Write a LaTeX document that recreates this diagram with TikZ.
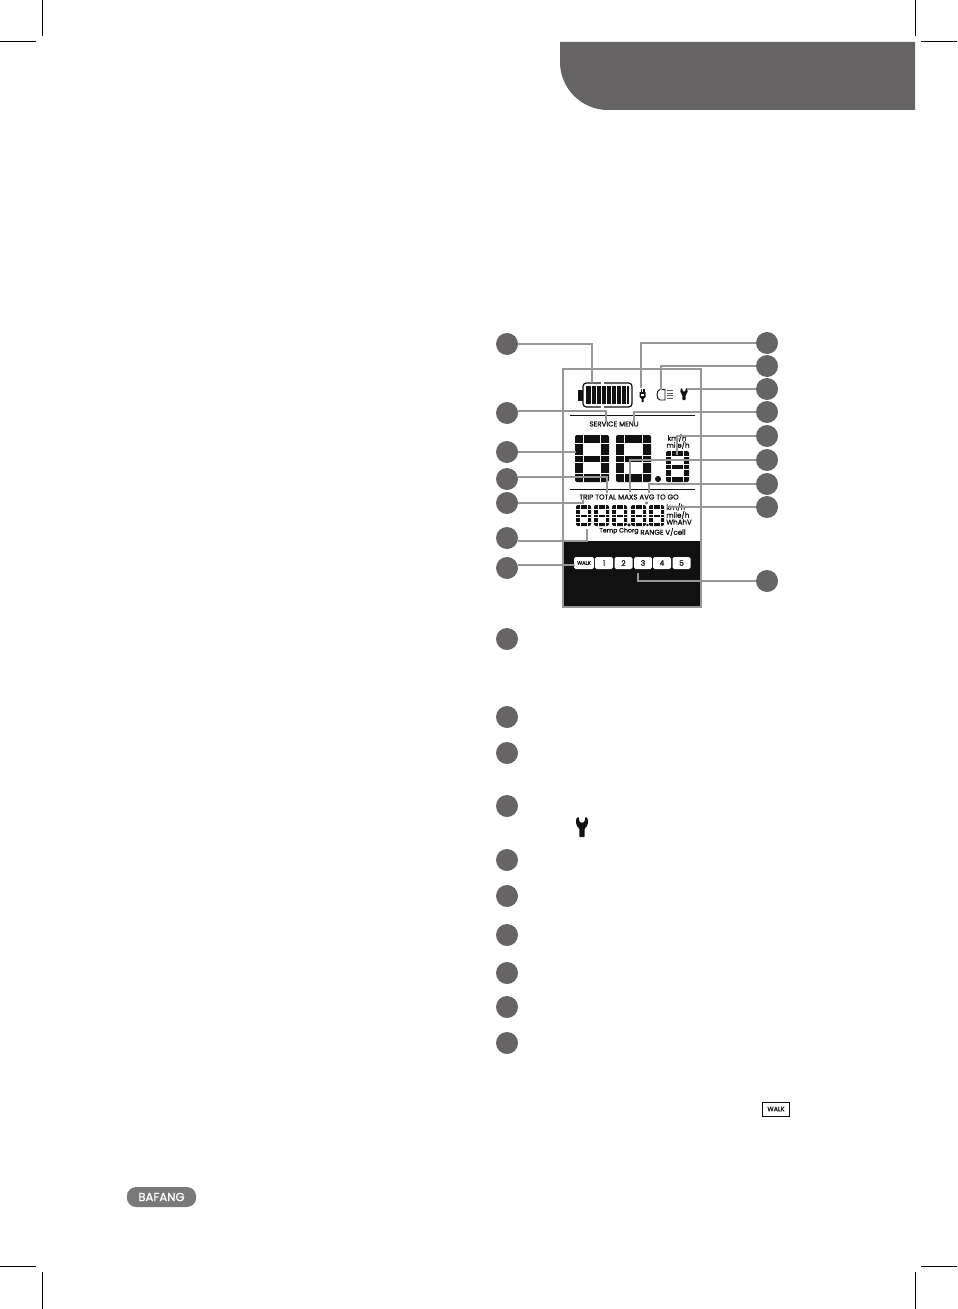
\documentclass[tikz,border=0pt]{standalone}
\usepackage{fontspec}
\setmainfont{Poppins}
\newfontfamily\lcdfont{Poppins}[FakeBold=1.2]
\definecolor{tabgray}{HTML}{656363}
\definecolor{dotgray}{HTML}{666464}
\definecolor{linegray}{HTML}{979797}
\definecolor{logogray}{HTML}{7A7878}
\definecolor{lcdblack}{HTML}{111111}
\tikzset{
  numdot/.style={circle,fill=dotgray,minimum size=16.5pt,inner sep=0pt},
  leader/.style={draw=linegray,line width=1.5pt},
  cropline/.style={draw=black,line width=0.75pt},
  lcdtext/.style={text=lcdblack,font=\lcdfont\fontsize{5.3pt}{6pt}\selectfont,inner sep=0pt},
  lcdbutton/.style={fill=white,rounded corners=1.2pt,text=lcdblack,inner sep=0pt,font=\lcdfont\fontsize{5.6pt}{6pt}\selectfont},
}
\newcommand{\lcddigit}[6]{%
  \fill[lcdblack,rounded corners=1.5pt] (#1,#2) rectangle (#1+#3,#2+#4);
  \fill[white] (#1+#5,#2+#5) rectangle (#1+#3-#5,#2+#4/2-#5*0.4);
  \fill[white] (#1+#5,#2+#4/2+#5*0.4) rectangle (#1+#3-#5,#2+#4-#5);
  \draw[white,line width=#6pt]
  (#1+#5,#2) -- (#1+#5,#2+#4)
  (#1+#3-#5,#2) -- (#1+#3-#5,#2+#4)
  (#1,#2+#5) -- (#1+#3,#2+#5)
  (#1,#2+#4-#5) -- (#1+#3,#2+#4-#5)
  (#1,#2+#4/2-#5*0.4) -- (#1+#3,#2+#4/2-#5*0.4)
  (#1,#2+#4/2+#5*0.4) -- (#1+#3,#2+#4/2+#5*0.4);
}
\newcommand{\wrenchicon}[3]{%
  \fill[lcdblack,shift={(#1,#2)},scale=#3,rounded corners=0.6pt]
  (-2.6,20) -- (-2.6,11.5)
  .. controls (-6,9) and (-6.8,4) .. (-5,0.5)
  -- (-3.2,0) -- (-2.6,4.5)
  .. controls (-1,6) and (1,6) .. (2.6,4.5)
  -- (3.2,0) -- (5,0.5)
  .. controls (6.8,4) and (6,9) .. (2.6,11.5)
  -- (2.6,20) -- cycle;
}
\begin{document}
\begin{tikzpicture}[x=0.75pt,y=-0.75pt]
\useasboundingbox (0,0) rectangle (957,1309);

% Crop marks
\draw[cropline] (42,0) -- (42,36);
\draw[cropline] (0,42) -- (36,42);
\draw[cropline] (915,0) -- (915,36);
\draw[cropline] (921,42) -- (957,42);
\draw[cropline] (42,1272) -- (42,1309);
\draw[cropline] (0,1266) -- (36,1266);
\draw[cropline] (915,1272) -- (915,1309);
\draw[cropline] (921,1266) -- (957,1266);

% Header tab
\fill[tabgray]
(560,42)
[rounded corners=36pt] -- (560,110)
[sharp corners] -- (915,110)
-- (915,42)
-- cycle;

% Display
\fill[lcdblack] (563,541) rectangle (701,607);
\draw[linegray,line width=1.5pt] (563,369) rectangle (701,607);
\draw[lcdblack,line width=0.7pt] (570,415) -- (695,415);
\draw[lcdblack,line width=0.7pt] (570,489) -- (695,489);

% Battery
\fill[lcdblack] (578,390) rectangle (583,401);
\draw[lcdblack,line width=0.9pt,rounded corners=2.5pt] (583,383) rectangle (632,407);
\fill[lcdblack] (586,386) rectangle (629,404);
\foreach \xc in {591,596,601,606,611,616,621,626}
  \draw[white,line width=0.25pt] (\xc,386) -- (\xc,404);
\fill[white] (601,382) rectangle (604,384.5);
\fill[white] (601,405.5) rectangle (604,408);

% Plug, light
\fill[lcdblack] (640.5,389) rectangle (641.7,392);
\fill[lcdblack] (643.3,389) rectangle (644.5,392);
\fill[lcdblack] (639.5,392) -- (645.5,392) -- (645.5,397) -- (643.5,399) -- (643.5,402) -- (641.5,402) -- (641.5,399) -- (639.5,397) -- cycle;
\fill[white] (641.3,393.5) rectangle (643.7,395.5);
\draw[lcdblack,line width=0.7pt] (665,389.5) -- (660,389.5) .. controls (656,389.5) and (656,400) .. (660,400) -- (665,400) -- cycle;
\foreach \yc in {390.5,393,395.5,398}
  \draw[lcdblack!70,line width=0.7pt] (667,\yc) -- (673,\yc);
\wrenchicon{684}{388}{0.6}

% Digits
\lcddigit{575}{435}{34}{47}{8.5}{0.35}
\lcddigit{616}{435}{35}{47}{8.5}{0.35}
\lcddigit{666}{451}{23}{31}{5.5}{0.25}
\fill[lcdblack] (658,479) circle (2.3pt);
\foreach \xd in {576,594,612,631,649}
  \lcddigit{\xd}{505}{15}{21}{3.8}{0.05}
\fill[lcdblack] (629,525) circle (1pt);
\fill[lcdblack] (647.5,525) circle (1pt);
\draw[lcdblack,line width=0.3pt] (646.5,503) circle (0.9pt);

% Display texts
\node[lcdtext] (service) at (614,424) {SERVICE MENU};
\node[lcdtext] (kmh) at (677,438) {km/h};
\node[lcdtext] (mileh) at (678,445) {mile/h};
\node[lcdtext] (modes) at (629,497) {TRIP TOTAL MAXS AVG TO GO};
\node[lcdtext,anchor=west] (kmhb) at (666,507) {km/h};
\node[lcdtext,anchor=west] (milehb) at (666,515) {mile/h};
\node[lcdtext,anchor=west] (whah) at (666,522) {WhAhV};
\node[lcdtext,font=\lcdfont\fontsize{4.7pt}{5pt}\selectfont] (tempchg) at (619,531) {Temp Chorg};
\node[lcdtext] (range) at (663,532) {RANGE V/cell};

% Assist buttons
\node[lcdbutton,minimum width=15pt,minimum height=9pt,font=\lcdfont\fontsize{3.8pt}{4pt}\selectfont] (walk) at (584,563) {WALK};
\foreach \nm/\xb in {1/604,2/623.5,3/643,4/662,5/681.5}
  \node[lcdbutton,minimum width=13.5pt,minimum height=9pt] (btn\nm) at (\xb,563) {\nm};

% Leader ends
\coordinate (endL1) at (592,383);
\coordinate (endL2) at (606,422);
\coordinate (endL3) at (576,452);
\coordinate (endL4) at (607,493);
\coordinate (endL5) at (583,500);
\coordinate (endL6) at (587,529);
\coordinate (endL7) at (574,565);
\coordinate (endR1) at (641,388);
\coordinate (endR2) at (661,390);
\coordinate (endR3) at (687,389);
\coordinate (endR4) at (634,422);
\coordinate (endR5) at (677,455);
\coordinate (endR6) at (630,492);
\coordinate (endR7) at (649,493);
\coordinate (endR8) at (667,507);
\coordinate (endR9) at (638,573);

% Numbered dots
\foreach \nm/\yd in {L1/344,L2/413,L3/452,L4/479,L5/503,L6/538,L7/568,A/639,B/717,C/753,D/806,E/860,F/896,G/935,H/973,I/1007,J/1043}
  \node[numdot] (dot\nm) at (507,\yd) {};
\foreach \nm/\yd in {R1/343,R2/366,R3/389,R4/412,R5/436,R6/460,R7/484,R8/507,R9/581}
  \node[numdot] (dot\nm) at (767,\yd) {};

% Leaders
\draw[leader] (dotL1.east) -| (endL1);
\draw[leader] (dotL2.10) -| (endL2);
\draw[leader] (dotL3.east) -- (endL3);
\draw[leader] (dotL4.10) -| (endL4);
\draw[leader] (dotL5.east) -| (endL5);
\draw[leader] (dotL6.-15) -| (endL6);
\draw[leader] (dotL7.15) -| (endL7);
\draw[leader] (dotR1.west) -| (endR1);
\draw[leader] (dotR2.west) -| (endR2);
\draw[leader] (dotR3.west) -- (endR3);
\draw[leader] (dotR4.west) -| (endR4);
\draw[leader] (dotR5.west) -| (endR5);
\draw[leader] (dotR6.west) -| (endR6);
\draw[leader] (dotR7.west) -| (endR7);
\draw[leader] (dotR8.west) -- (endR8);
\draw[leader] (dotR9.west) -| (endR9);

% Legend icons
\wrenchicon{582}{817}{1}
\node[draw=lcdblack,line width=0.6pt,fill=white,minimum width=20pt,minimum height=10.5pt,inner sep=0pt,text=lcdblack,font=\lcdfont\fontsize{4.8pt}{5pt}\selectfont] (walkkey) at (776,1109) {WALK};

% Logo
\node[fill=logogray,rounded corners=7pt,minimum width=52pt,minimum height=15pt,inner sep=0pt,text=white,font=\lcdfont\fontsize{8.8pt}{9pt}\selectfont] (logo) at (161.5,1197) {BAFANG};

\end{tikzpicture}
\end{document}
